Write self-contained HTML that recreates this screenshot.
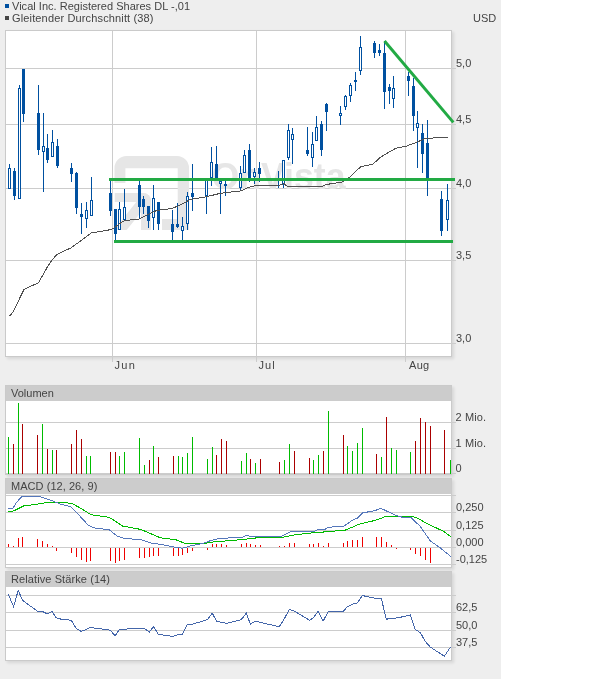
<!DOCTYPE html>
<html><head><meta charset="utf-8"><title>Chart</title>
<style>
html,body{margin:0;padding:0;background:#fff;}
body{width:614px;height:679px;position:relative;overflow:hidden;font-family:"Liberation Sans",sans-serif;}
.bg{position:absolute;left:0;top:0;width:501px;height:679px;background:#eeeeee;}
.panel{position:absolute;left:5px;width:447px;background:#fff;border:1px solid #cacaca;box-sizing:border-box;box-shadow:2px 2px 3px rgba(0,0,0,0.10);}
.hdr{position:absolute;left:0;top:0;width:445px;height:15px;background:#cccccc;}
</style></head><body>
<div class="bg"></div>
<div class="panel" style="top:30px;height:327px"></div>
<div class="panel" style="top:385px;height:90px"><div class="hdr"></div></div>
<div class="panel" style="top:478px;height:90px"><div class="hdr"></div></div>
<div class="panel" style="top:571px;height:90px"><div class="hdr"></div></div>
<svg width="614" height="679" viewBox="0 0 614 679" style="position:absolute;left:0;top:0;will-change:transform">
<g shape-rendering="crispEdges">
<rect x="6" y="68" width="450" height="1" fill="#cccccc"/>
<rect x="6" y="124" width="450" height="1" fill="#cccccc"/>
<rect x="6" y="188" width="450" height="1" fill="#cccccc"/>
<rect x="6" y="260" width="450" height="1" fill="#cccccc"/>
<rect x="6" y="343" width="450" height="1" fill="#cccccc"/>
<rect x="112" y="31" width="1" height="331" fill="#cccccc"/>
<rect x="256" y="31" width="1" height="331" fill="#cccccc"/>
<rect x="405" y="31" width="1" height="331" fill="#cccccc"/>
</g>
<defs><clipPath id="ac"><path d="M114.5,193 H143 a8,8 0 0 1 8,8 V230 H114.5 Z"/></clipPath></defs>
<g fill="#e6e6e6">
<path d="M114.5,183 V168 A12,12 0 0 1 126.5,156 H177 A12,12 0 0 1 189,168 V230 H162 V219 H177.7 V168.3 H125.4 V183 Z"/>
<g clip-path="url(#ac)"><rect x="114.5" y="193" width="37" height="9"/><rect x="141" y="193" width="10" height="37"/><line x1="146" y1="198" x2="117" y2="234" stroke="#e6e6e6" stroke-width="10"/></g>
<text x="211.5" y="189" font-family="Liberation Sans, sans-serif" font-weight="bold" font-size="36.5" textLength="134" lengthAdjust="spacingAndGlyphs">OnVista</text>
</g>
<g shape-rendering="crispEdges">
<rect x="9" y="164" width="1" height="4" fill="#0050a0"/>
<rect x="8" y="168" width="3" height="21" fill="#0050a0"/>
<rect x="9" y="169" width="1" height="19" fill="#ffffff"/>
<rect x="14" y="168" width="1" height="32" fill="#0050a0"/>
<rect x="13" y="171" width="3" height="25" fill="#0050a0"/>
<rect x="19" y="85" width="1" height="3" fill="#0050a0"/>
<rect x="18" y="88" width="3" height="111" fill="#0050a0"/>
<rect x="19" y="89" width="1" height="109" fill="#ffffff"/>
<rect x="23" y="69" width="1" height="53" fill="#0050a0"/>
<rect x="22" y="69" width="3" height="45" fill="#0050a0"/>
<rect x="38" y="85" width="1" height="70" fill="#0050a0"/>
<rect x="37" y="113" width="3" height="37" fill="#0050a0"/>
<rect x="43" y="113" width="1" height="33" fill="#0050a0"/>
<rect x="43" y="152" width="1" height="40" fill="#0050a0"/>
<rect x="42" y="146" width="3" height="6" fill="#0050a0"/>
<rect x="43" y="147" width="1" height="4" fill="#ffffff"/>
<rect x="47" y="134" width="1" height="29" fill="#0050a0"/>
<rect x="46" y="148" width="3" height="12" fill="#0050a0"/>
<rect x="52" y="130" width="1" height="12" fill="#0050a0"/>
<rect x="51" y="142" width="3" height="15" fill="#0050a0"/>
<rect x="52" y="143" width="1" height="13" fill="#ffffff"/>
<rect x="57" y="139" width="1" height="29" fill="#0050a0"/>
<rect x="56" y="146" width="3" height="20" fill="#0050a0"/>
<rect x="71" y="163" width="1" height="19" fill="#0050a0"/>
<rect x="70" y="168" width="3" height="6" fill="#0050a0"/>
<rect x="76" y="172" width="1" height="42" fill="#0050a0"/>
<rect x="75" y="173" width="3" height="35" fill="#0050a0"/>
<rect x="81" y="203" width="1" height="31" fill="#0050a0"/>
<rect x="80" y="214" width="3" height="3" fill="#0050a0"/>
<rect x="86" y="202" width="1" height="8" fill="#0050a0"/>
<rect x="86" y="219" width="1" height="9" fill="#0050a0"/>
<rect x="85" y="210" width="3" height="9" fill="#0050a0"/>
<rect x="86" y="211" width="1" height="7" fill="#ffffff"/>
<rect x="91" y="177" width="1" height="23" fill="#0050a0"/>
<rect x="90" y="200" width="3" height="16" fill="#0050a0"/>
<rect x="91" y="201" width="1" height="14" fill="#ffffff"/>
<rect x="110" y="180" width="1" height="36" fill="#0050a0"/>
<rect x="109" y="193" width="3" height="18" fill="#0050a0"/>
<rect x="115" y="209" width="1" height="32" fill="#0050a0"/>
<rect x="114" y="209" width="3" height="25" fill="#0050a0"/>
<rect x="119" y="202" width="1" height="7" fill="#0050a0"/>
<rect x="118" y="209" width="3" height="21" fill="#0050a0"/>
<rect x="119" y="210" width="1" height="19" fill="#ffffff"/>
<rect x="124" y="189" width="1" height="18" fill="#0050a0"/>
<rect x="124" y="220" width="1" height="1" fill="#0050a0"/>
<rect x="123" y="207" width="3" height="13" fill="#0050a0"/>
<rect x="124" y="208" width="1" height="11" fill="#ffffff"/>
<rect x="139" y="181" width="1" height="38" fill="#0050a0"/>
<rect x="138" y="185" width="3" height="22" fill="#0050a0"/>
<rect x="143" y="196" width="1" height="18" fill="#0050a0"/>
<rect x="142" y="199" width="3" height="8" fill="#0050a0"/>
<rect x="148" y="206" width="1" height="22" fill="#0050a0"/>
<rect x="147" y="206" width="3" height="15" fill="#0050a0"/>
<rect x="153" y="185" width="1" height="13" fill="#0050a0"/>
<rect x="153" y="218" width="1" height="12" fill="#0050a0"/>
<rect x="152" y="198" width="3" height="20" fill="#0050a0"/>
<rect x="153" y="199" width="1" height="18" fill="#ffffff"/>
<rect x="158" y="202" width="1" height="28" fill="#0050a0"/>
<rect x="157" y="202" width="3" height="22" fill="#0050a0"/>
<rect x="172" y="210" width="1" height="30" fill="#0050a0"/>
<rect x="171" y="224" width="3" height="8" fill="#0050a0"/>
<rect x="177" y="203" width="1" height="25" fill="#0050a0"/>
<rect x="176" y="224" width="3" height="3" fill="#0050a0"/>
<rect x="182" y="217" width="1" height="9" fill="#0050a0"/>
<rect x="182" y="231" width="1" height="9" fill="#0050a0"/>
<rect x="181" y="226" width="3" height="5" fill="#0050a0"/>
<rect x="182" y="227" width="1" height="3" fill="#ffffff"/>
<rect x="187" y="192" width="1" height="4" fill="#0050a0"/>
<rect x="187" y="224" width="1" height="6" fill="#0050a0"/>
<rect x="186" y="196" width="3" height="28" fill="#0050a0"/>
<rect x="187" y="197" width="1" height="26" fill="#ffffff"/>
<rect x="192" y="164" width="1" height="47" fill="#0050a0"/>
<rect x="191" y="193" width="3" height="4" fill="#0050a0"/>
<rect x="206" y="196" width="1" height="18" fill="#0050a0"/>
<rect x="205" y="180" width="3" height="16" fill="#0050a0"/>
<rect x="206" y="181" width="1" height="14" fill="#ffffff"/>
<rect x="211" y="147" width="1" height="15" fill="#0050a0"/>
<rect x="211" y="178" width="1" height="8" fill="#0050a0"/>
<rect x="210" y="162" width="3" height="16" fill="#0050a0"/>
<rect x="211" y="163" width="1" height="14" fill="#ffffff"/>
<rect x="216" y="146" width="1" height="32" fill="#0050a0"/>
<rect x="215" y="164" width="3" height="14" fill="#0050a0"/>
<rect x="220" y="184" width="1" height="30" fill="#0050a0"/>
<rect x="219" y="181" width="3" height="3" fill="#0050a0"/>
<rect x="220" y="182" width="1" height="1" fill="#ffffff"/>
<rect x="225" y="181" width="1" height="15" fill="#0050a0"/>
<rect x="224" y="184" width="3" height="2" fill="#0050a0"/>
<rect x="240" y="166" width="1" height="7" fill="#0050a0"/>
<rect x="240" y="188" width="1" height="3" fill="#0050a0"/>
<rect x="239" y="173" width="3" height="15" fill="#0050a0"/>
<rect x="240" y="174" width="1" height="13" fill="#ffffff"/>
<rect x="244" y="150" width="1" height="5" fill="#0050a0"/>
<rect x="243" y="155" width="3" height="18" fill="#0050a0"/>
<rect x="244" y="156" width="1" height="16" fill="#ffffff"/>
<rect x="249" y="144" width="1" height="38" fill="#0050a0"/>
<rect x="248" y="150" width="3" height="28" fill="#0050a0"/>
<rect x="254" y="168" width="1" height="4" fill="#0050a0"/>
<rect x="254" y="177" width="1" height="7" fill="#0050a0"/>
<rect x="253" y="172" width="3" height="5" fill="#0050a0"/>
<rect x="254" y="173" width="1" height="3" fill="#ffffff"/>
<rect x="259" y="162" width="1" height="20" fill="#0050a0"/>
<rect x="258" y="168" width="3" height="6" fill="#0050a0"/>
<rect x="278" y="171" width="1" height="17" fill="#0050a0"/>
<rect x="277" y="178" width="3" height="3" fill="#0050a0"/>
<rect x="283" y="184" width="1" height="4" fill="#0050a0"/>
<rect x="282" y="160" width="3" height="24" fill="#0050a0"/>
<rect x="283" y="161" width="1" height="22" fill="#ffffff"/>
<rect x="288" y="124" width="1" height="6" fill="#0050a0"/>
<rect x="288" y="158" width="1" height="2" fill="#0050a0"/>
<rect x="287" y="130" width="3" height="28" fill="#0050a0"/>
<rect x="288" y="131" width="1" height="26" fill="#ffffff"/>
<rect x="292" y="128" width="1" height="6" fill="#0050a0"/>
<rect x="292" y="140" width="1" height="24" fill="#0050a0"/>
<rect x="291" y="134" width="3" height="6" fill="#0050a0"/>
<rect x="292" y="135" width="1" height="4" fill="#ffffff"/>
<rect x="307" y="127" width="1" height="29" fill="#0050a0"/>
<rect x="306" y="150" width="3" height="4" fill="#0050a0"/>
<rect x="312" y="132" width="1" height="12" fill="#0050a0"/>
<rect x="312" y="158" width="1" height="9" fill="#0050a0"/>
<rect x="311" y="144" width="3" height="14" fill="#0050a0"/>
<rect x="312" y="145" width="1" height="12" fill="#ffffff"/>
<rect x="316" y="116" width="1" height="11" fill="#0050a0"/>
<rect x="315" y="127" width="3" height="14" fill="#0050a0"/>
<rect x="316" y="128" width="1" height="12" fill="#ffffff"/>
<rect x="321" y="121" width="1" height="35" fill="#0050a0"/>
<rect x="320" y="124" width="3" height="26" fill="#0050a0"/>
<rect x="326" y="103" width="1" height="28" fill="#0050a0"/>
<rect x="325" y="104" width="3" height="8" fill="#0050a0"/>
<rect x="340" y="106" width="1" height="7" fill="#0050a0"/>
<rect x="340" y="116" width="1" height="9" fill="#0050a0"/>
<rect x="339" y="113" width="3" height="3" fill="#0050a0"/>
<rect x="340" y="114" width="1" height="1" fill="#ffffff"/>
<rect x="345" y="95" width="1" height="1" fill="#0050a0"/>
<rect x="345" y="107" width="1" height="3" fill="#0050a0"/>
<rect x="344" y="96" width="3" height="11" fill="#0050a0"/>
<rect x="345" y="97" width="1" height="9" fill="#ffffff"/>
<rect x="350" y="83" width="1" height="2" fill="#0050a0"/>
<rect x="350" y="96" width="1" height="6" fill="#0050a0"/>
<rect x="349" y="85" width="3" height="11" fill="#0050a0"/>
<rect x="350" y="86" width="1" height="9" fill="#ffffff"/>
<rect x="355" y="72" width="1" height="19" fill="#0050a0"/>
<rect x="354" y="80" width="3" height="2" fill="#0050a0"/>
<rect x="360" y="36" width="1" height="11" fill="#0050a0"/>
<rect x="360" y="71" width="1" height="4" fill="#0050a0"/>
<rect x="359" y="47" width="3" height="24" fill="#0050a0"/>
<rect x="360" y="48" width="1" height="22" fill="#ffffff"/>
<rect x="374" y="41" width="1" height="17" fill="#0050a0"/>
<rect x="373" y="43" width="3" height="10" fill="#0050a0"/>
<rect x="379" y="44" width="1" height="12" fill="#0050a0"/>
<rect x="378" y="50" width="3" height="3" fill="#0050a0"/>
<rect x="384" y="41" width="1" height="68" fill="#0050a0"/>
<rect x="383" y="53" width="3" height="39" fill="#0050a0"/>
<rect x="389" y="84" width="1" height="20" fill="#0050a0"/>
<rect x="388" y="87" width="3" height="4" fill="#0050a0"/>
<rect x="393" y="76" width="1" height="12" fill="#0050a0"/>
<rect x="393" y="99" width="1" height="9" fill="#0050a0"/>
<rect x="392" y="88" width="3" height="11" fill="#0050a0"/>
<rect x="393" y="89" width="1" height="9" fill="#ffffff"/>
<rect x="408" y="72" width="1" height="24" fill="#0050a0"/>
<rect x="407" y="76" width="3" height="5" fill="#0050a0"/>
<rect x="413" y="78" width="1" height="53" fill="#0050a0"/>
<rect x="412" y="86" width="3" height="30" fill="#0050a0"/>
<rect x="417" y="111" width="1" height="12" fill="#0050a0"/>
<rect x="417" y="128" width="1" height="40" fill="#0050a0"/>
<rect x="416" y="123" width="3" height="5" fill="#0050a0"/>
<rect x="417" y="124" width="1" height="3" fill="#ffffff"/>
<rect x="422" y="124" width="1" height="49" fill="#0050a0"/>
<rect x="421" y="133" width="3" height="21" fill="#0050a0"/>
<rect x="427" y="120" width="1" height="76" fill="#0050a0"/>
<rect x="426" y="143" width="3" height="35" fill="#0050a0"/>
<rect x="441" y="191" width="1" height="45" fill="#0050a0"/>
<rect x="440" y="199" width="3" height="32" fill="#0050a0"/>
<rect x="447" y="184" width="1" height="16" fill="#0050a0"/>
<rect x="447" y="220" width="1" height="11" fill="#0050a0"/>
<rect x="446" y="200" width="3" height="20" fill="#0050a0"/>
<rect x="447" y="201" width="1" height="18" fill="#ffffff"/>
</g>
<polyline shape-rendering="crispEdges" fill="none" stroke="#505050" stroke-width="1" points="9.6,316 13,312.1 24,289.4 38.6,282.7 46.9,267.8 52.1,260 56.7,254.5 71.3,247.7 91.3,233 108.5,230 112.8,228.9 119.7,223.6 124.5,220.5 139.2,219.1 148,214.3 156.8,210.4 172.4,208.4 183.2,203.5 190,199.6 206.6,196.7 220.4,193.3 241,190.9 247.8,187.5 256.8,185.4 279,185.4 284,183.6 286.9,186 314.5,186 321.4,186.8 326.3,184.5 341.9,182.1 348.7,178 360.5,166.9 373.2,164 380,157.5 395.6,148.3 405.6,146.4 416.3,142.4 425,138.5 447.5,137.1"/>
<g shape-rendering="crispEdges"><rect x="109" y="178" width="346" height="3" fill="#22aa44"/><rect x="114" y="240" width="339" height="3" fill="#22aa44"/></g>
<line x1="384.5" y1="41" x2="453.3" y2="122.4" stroke="#22aa44" stroke-width="3"/>
<g shape-rendering="crispEdges">
<rect x="6" y="422" width="450" height="1" fill="#cccccc"/>
<rect x="6" y="448" width="450" height="1" fill="#cccccc"/>
<rect x="6" y="473" width="450" height="1" fill="#cccccc"/>
<rect x="8" y="437" width="1" height="37" fill="#00bb00"/>
<rect x="13" y="444" width="1" height="30" fill="#aa0000"/>
<rect x="18" y="403" width="1" height="71" fill="#00bb00"/>
<rect x="22" y="424" width="1" height="50" fill="#aa0000"/>
<rect x="37" y="435" width="1" height="39" fill="#aa0000"/>
<rect x="42" y="424" width="1" height="50" fill="#00bb00"/>
<rect x="47" y="449" width="1" height="25" fill="#aa0000"/>
<rect x="52" y="450" width="1" height="24" fill="#00bb00"/>
<rect x="56" y="450" width="1" height="24" fill="#aa0000"/>
<rect x="71" y="444" width="1" height="30" fill="#aa0000"/>
<rect x="76" y="430" width="1" height="44" fill="#aa0000"/>
<rect x="81" y="439" width="1" height="35" fill="#aa0000"/>
<rect x="86" y="456" width="1" height="18" fill="#00bb00"/>
<rect x="90" y="456" width="1" height="18" fill="#00bb00"/>
<rect x="110" y="452" width="1" height="22" fill="#aa0000"/>
<rect x="115" y="452" width="1" height="22" fill="#aa0000"/>
<rect x="119" y="456" width="1" height="18" fill="#00bb00"/>
<rect x="124" y="452" width="1" height="22" fill="#00bb00"/>
<rect x="139" y="438" width="1" height="36" fill="#00bb00"/>
<rect x="144" y="465" width="1" height="9" fill="#00bb00"/>
<rect x="149" y="460" width="1" height="14" fill="#aa0000"/>
<rect x="153" y="446" width="1" height="28" fill="#00bb00"/>
<rect x="158" y="457" width="1" height="17" fill="#aa0000"/>
<rect x="173" y="456" width="1" height="18" fill="#aa0000"/>
<rect x="178" y="456" width="1" height="18" fill="#00bb00"/>
<rect x="182" y="457" width="1" height="17" fill="#00bb00"/>
<rect x="187" y="453" width="1" height="21" fill="#00bb00"/>
<rect x="192" y="437" width="1" height="37" fill="#00bb00"/>
<rect x="207" y="459" width="1" height="15" fill="#00bb00"/>
<rect x="212" y="447" width="1" height="27" fill="#00bb00"/>
<rect x="216" y="455" width="1" height="19" fill="#aa0000"/>
<rect x="221" y="439" width="1" height="35" fill="#aa0000"/>
<rect x="226" y="441" width="1" height="33" fill="#aa0000"/>
<rect x="241" y="461" width="1" height="13" fill="#00bb00"/>
<rect x="246" y="453" width="1" height="21" fill="#00bb00"/>
<rect x="250" y="459" width="1" height="15" fill="#aa0000"/>
<rect x="255" y="463" width="1" height="11" fill="#00bb00"/>
<rect x="260" y="459" width="1" height="15" fill="#aa0000"/>
<rect x="279" y="462" width="1" height="12" fill="#aa0000"/>
<rect x="284" y="460" width="1" height="14" fill="#00bb00"/>
<rect x="289" y="444" width="1" height="30" fill="#00bb00"/>
<rect x="294" y="451" width="1" height="23" fill="#aa0000"/>
<rect x="309" y="458" width="1" height="16" fill="#aa0000"/>
<rect x="313" y="460" width="1" height="14" fill="#00bb00"/>
<rect x="318" y="455" width="1" height="19" fill="#00bb00"/>
<rect x="323" y="451" width="1" height="23" fill="#aa0000"/>
<rect x="328" y="411" width="1" height="63" fill="#00bb00"/>
<rect x="343" y="435" width="1" height="39" fill="#aa0000"/>
<rect x="347" y="446" width="1" height="28" fill="#00bb00"/>
<rect x="352" y="451" width="1" height="23" fill="#00bb00"/>
<rect x="357" y="443" width="1" height="31" fill="#00bb00"/>
<rect x="362" y="428" width="1" height="46" fill="#00bb00"/>
<rect x="376" y="454" width="1" height="20" fill="#aa0000"/>
<rect x="381" y="457" width="1" height="17" fill="#00bb00"/>
<rect x="386" y="417" width="1" height="57" fill="#aa0000"/>
<rect x="391" y="448" width="1" height="26" fill="#00bb00"/>
<rect x="396" y="450" width="1" height="24" fill="#00bb00"/>
<rect x="410" y="452" width="1" height="22" fill="#00bb00"/>
<rect x="415" y="441" width="1" height="33" fill="#aa0000"/>
<rect x="420" y="418" width="1" height="56" fill="#aa0000"/>
<rect x="425" y="422" width="1" height="52" fill="#aa0000"/>
<rect x="430" y="426" width="1" height="48" fill="#aa0000"/>
<rect x="444" y="430" width="1" height="44" fill="#aa0000"/>
<rect x="450" y="460" width="1" height="14" fill="#00bb00"/>
<rect x="6" y="495" width="450" height="1" fill="#cccccc"/>
<rect x="6" y="512" width="450" height="1" fill="#cccccc"/>
<rect x="6" y="530" width="450" height="1" fill="#cccccc"/>
<rect x="6" y="547" width="450" height="1" fill="#cccccc"/>
<rect x="6" y="564" width="450" height="1" fill="#cccccc"/>
<rect x="8" y="544" width="1" height="3" fill="#ee0000"/>
<rect x="13" y="546" width="1" height="1" fill="#ee0000"/>
<rect x="18" y="538" width="1" height="9" fill="#ee0000"/>
<rect x="22" y="537" width="1" height="10" fill="#ee0000"/>
<rect x="37" y="539" width="1" height="8" fill="#ee0000"/>
<rect x="42" y="541" width="1" height="6" fill="#ee0000"/>
<rect x="47" y="544" width="1" height="3" fill="#ee0000"/>
<rect x="52" y="546" width="1" height="1" fill="#ee0000"/>
<rect x="56" y="548" width="1" height="3" fill="#ee0000"/>
<rect x="71" y="548" width="1" height="5" fill="#ee0000"/>
<rect x="76" y="548" width="1" height="9" fill="#ee0000"/>
<rect x="81" y="548" width="1" height="12" fill="#ee0000"/>
<rect x="86" y="548" width="1" height="14" fill="#ee0000"/>
<rect x="90" y="548" width="1" height="13" fill="#ee0000"/>
<rect x="110" y="548" width="1" height="13" fill="#ee0000"/>
<rect x="115" y="548" width="1" height="15" fill="#ee0000"/>
<rect x="119" y="548" width="1" height="13" fill="#ee0000"/>
<rect x="124" y="548" width="1" height="12" fill="#ee0000"/>
<rect x="139" y="548" width="1" height="10" fill="#ee0000"/>
<rect x="144" y="548" width="1" height="10" fill="#ee0000"/>
<rect x="149" y="548" width="1" height="9" fill="#ee0000"/>
<rect x="153" y="548" width="1" height="8" fill="#ee0000"/>
<rect x="158" y="548" width="1" height="8" fill="#ee0000"/>
<rect x="173" y="548" width="1" height="8" fill="#ee0000"/>
<rect x="178" y="548" width="1" height="8" fill="#ee0000"/>
<rect x="182" y="548" width="1" height="7" fill="#ee0000"/>
<rect x="187" y="548" width="1" height="5" fill="#ee0000"/>
<rect x="192" y="548" width="1" height="3" fill="#ee0000"/>
<rect x="207" y="548" width="1" height="2" fill="#ee0000"/>
<rect x="212" y="544" width="1" height="3" fill="#ee0000"/>
<rect x="216" y="544" width="1" height="3" fill="#ee0000"/>
<rect x="221" y="544" width="1" height="3" fill="#ee0000"/>
<rect x="226" y="545" width="1" height="2" fill="#ee0000"/>
<rect x="241" y="544" width="1" height="3" fill="#ee0000"/>
<rect x="246" y="543" width="1" height="4" fill="#ee0000"/>
<rect x="250" y="544" width="1" height="3" fill="#ee0000"/>
<rect x="255" y="545" width="1" height="2" fill="#ee0000"/>
<rect x="260" y="545" width="1" height="2" fill="#ee0000"/>
<rect x="279" y="546" width="1" height="1" fill="#ee0000"/>
<rect x="284" y="546" width="1" height="1" fill="#ee0000"/>
<rect x="289" y="543" width="1" height="4" fill="#ee0000"/>
<rect x="294" y="543" width="1" height="4" fill="#ee0000"/>
<rect x="309" y="544" width="1" height="3" fill="#ee0000"/>
<rect x="313" y="544" width="1" height="3" fill="#ee0000"/>
<rect x="318" y="543" width="1" height="4" fill="#ee0000"/>
<rect x="323" y="546" width="1" height="1" fill="#ee0000"/>
<rect x="328" y="543" width="1" height="4" fill="#ee0000"/>
<rect x="343" y="543" width="1" height="4" fill="#ee0000"/>
<rect x="347" y="541" width="1" height="6" fill="#ee0000"/>
<rect x="352" y="540" width="1" height="7" fill="#ee0000"/>
<rect x="357" y="540" width="1" height="7" fill="#ee0000"/>
<rect x="362" y="537" width="1" height="10" fill="#ee0000"/>
<rect x="376" y="537" width="1" height="10" fill="#ee0000"/>
<rect x="381" y="537" width="1" height="10" fill="#ee0000"/>
<rect x="386" y="542" width="1" height="5" fill="#ee0000"/>
<rect x="391" y="545" width="1" height="2" fill="#ee0000"/>
<rect x="396" y="548" width="1" height="1" fill="#ee0000"/>
<rect x="410" y="548" width="1" height="2" fill="#ee0000"/>
<rect x="415" y="548" width="1" height="6" fill="#ee0000"/>
<rect x="420" y="548" width="1" height="8" fill="#ee0000"/>
<rect x="425" y="548" width="1" height="12" fill="#ee0000"/>
<rect x="430" y="548" width="1" height="15" fill="#ee0000"/>
<rect x="6" y="595" width="450" height="1" fill="#cccccc"/>
<rect x="6" y="612" width="450" height="1" fill="#cccccc"/>
<rect x="6" y="630" width="450" height="1" fill="#cccccc"/>
<rect x="6" y="647" width="450" height="1" fill="#cccccc"/>
</g>
<polyline shape-rendering="crispEdges" fill="none" stroke="#00bb00" stroke-width="1" points="7.8,511.7 13,511.2 23.5,506 33.9,504.7 46.9,502.6 60,502 71.7,503.4 80.8,508.3 91.2,514.8 109.4,517.4 122.5,526 140.7,529.4 151.1,533.8 160.4,537.8 176,539.8 185.2,543.5 202.1,543.7 215.1,541.7 233.4,540.4 254.2,538.3 259.4,537.2 282.9,537.2 293.3,535.1 307.8,533.3 326,531.8 345.6,530 359.9,523.9 375.6,520.3 386,516.4 412,516.4 416,517.4 427.7,523.9 443.3,531.2 451.1,537"/>
<polyline shape-rendering="crispEdges" fill="none" stroke="#5577bb" stroke-width="1" points="7.8,508.3 13,508.3 16.2,502.6 22.1,496.5 39.1,496.5 52.1,500.7 60,503.9 70.4,506.5 78.2,514.3 88.6,525.5 93.8,527.8 109.4,529.9 117.3,536.2 125,538.5 140.7,539.6 151.1,543 160.4,544.3 173.5,546.9 182.6,548.2 191.7,545.6 202.1,543.7 211.2,540.4 219,538.5 242.5,537.2 246.9,535.1 250.3,536.4 281.6,536.4 292,531.2 314.3,531.2 318.2,529.4 323.5,530 328.7,527.3 344.3,526 352.1,520.3 357.3,518.2 362.5,513 375.6,510.4 380.8,508.3 396.4,515.6 403,517.4 410.7,517.4 419.9,526 430.3,540.9 440.7,548.2 451.1,556.8"/>
<polyline shape-rendering="crispEdges" fill="none" stroke="#4466aa" stroke-width="1" points="8.3,594.2 13.6,606.7 18.2,590.3 22.4,600.2 37.3,611.1 42.5,611.4 47.2,614 52.1,611.4 56.3,617.9 61.2,619.2 67.2,619.7 71.4,620.5 76.4,628.8 81.3,631.4 86.3,629.4 90.4,627.5 100.3,628.8 110.2,630.1 115.2,635.9 119.3,629.4 124.3,629.4 132.9,628.3 144.4,628.3 149.3,632 153.5,626.8 158.3,634.1 165.6,635.4 173.2,636.4 178.4,634.6 182.3,634.1 187.3,624.4 192.5,624.2 207.3,619.7 212.3,613.2 216.4,621 221.4,622.3 226.4,623.4 241.2,619.7 246.4,613.2 250.3,624.2 255.3,621 260.2,622.3 279.3,626.8 284.5,618.4 289.4,609.3 294.4,611.1 309.4,620.2 313.3,617.9 318.2,611.4 323.2,621 328.4,611.4 343.3,611.4 347.4,606.7 352.4,604.1 357.3,603 362.3,595.5 369,597 376.4,598.4 381.3,598.4 386.3,619.2 391.2,618.4 397.7,617.9 410.2,615 415.2,629.4 420.4,632.8 425.3,641.4 430.3,647.1 444.4,656.2 450.4,647.1"/>
<g font-family="Liberation Sans, sans-serif" font-size="11" fill="#444444">
<text x="12" y="10" textLength="178" lengthAdjust="spacing">Vical Inc. Registered Shares DL -,01</text>
<text x="12" y="22" textLength="141.5" lengthAdjust="spacing">Gleitender Durchschnitt (38)</text>
<text x="473" y="22">USD</text>
<text x="456" y="67">5,0</text>
<text x="456" y="123">4,5</text>
<text x="456" y="187">4,0</text>
<text x="456" y="259">3,5</text>
<text x="456" y="342">3,0</text>
<text x="114.5" y="369" textLength="20.3" lengthAdjust="spacing">Jun</text>
<text x="258.5" y="369" textLength="16.3" lengthAdjust="spacing">Jul</text>
<text x="409" y="369" textLength="20.2" lengthAdjust="spacing">Aug</text>
<text x="11" y="397">Volumen</text>
<text x="11" y="490" textLength="86.3" lengthAdjust="spacing">MACD (12, 26, 9)</text>
<text x="11" y="583" textLength="99" lengthAdjust="spacing">Relative Stärke (14)</text>
<text x="455.5" y="421" textLength="30.6" lengthAdjust="spacing">2 Mio.</text>
<text x="455.5" y="447" textLength="30.6" lengthAdjust="spacing">1 Mio.</text>
<text x="455.5" y="472">0</text>
<text x="456" y="511">0,250</text>
<text x="456" y="529">0,125</text>
<text x="456" y="546">0,000</text>
<text x="456" y="563">-0,125</text>
<text x="456" y="611">62,5</text>
<text x="456" y="629">50,0</text>
<text x="456" y="646">37,5</text>
</g>
<rect x="5" y="4" width="4" height="4" fill="#0050a0"/><rect x="5" y="16" width="4" height="4" fill="#444"/>
</svg>
</body></html>
